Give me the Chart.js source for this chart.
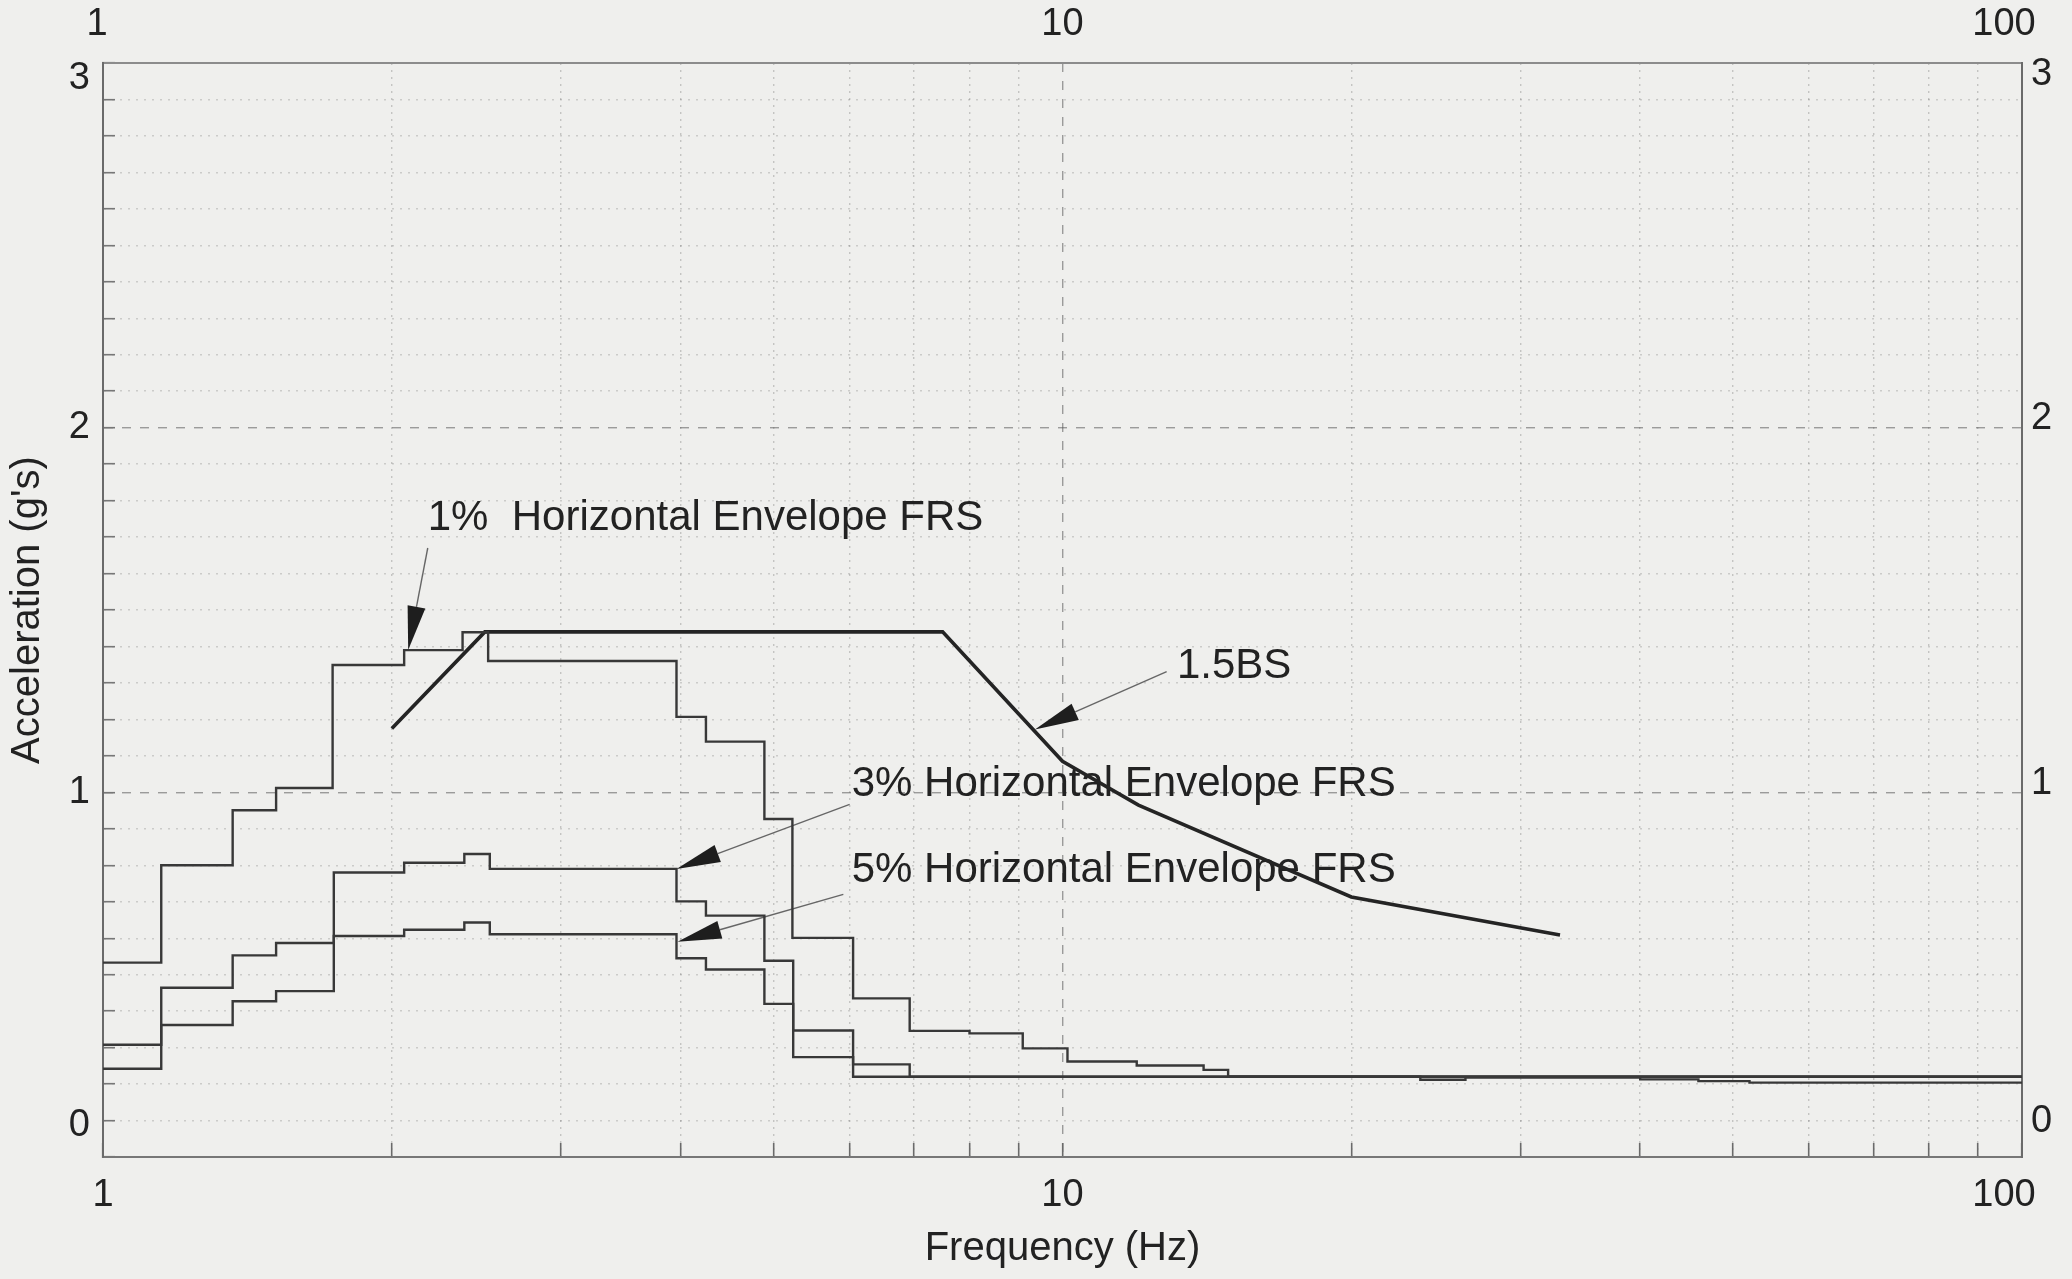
<!DOCTYPE html>
<html>
<head>
<meta charset="utf-8">
<title>Horizontal Envelope FRS vs 1.5BS</title>
<script src="https://cdn.jsdelivr.net/npm/chart.js@4.4.1/dist/chart.umd.min.js"></script>
<style>
  html, body { margin: 0; padding: 0; background: #efefed; }
  #wrap { position: relative; width: 2072px; height: 1279px; }
</style>
</head>
<body>
<div id="wrap"><canvas id="chart"></canvas></div>
<script>
// Step spectra: frequency (Hz) where each level starts, and that level (g)
const frs1Freq = [1, 1.15, 1.365, 1.515, 1.735, 2.06, 2.37, 2.52, 3.96, 4.25, 4.89, 5.23, 6.05, 6.93, 8.0, 9.09, 10.12, 11.95, 14.03, 14.88, 100];
const frs1Acc  = [0.533, 0.800, 0.951, 1.012, 1.349, 1.390, 1.439, 1.360, 1.207, 1.139, 0.927, 0.601, 0.435, 0.346, 0.339, 0.298, 0.262, 0.251, 0.239, 0.221, 0.221];

const frs3Freq = [1, 1.15, 1.365, 1.515, 1.74, 2.06, 2.38, 2.53, 3.96, 4.25, 4.89, 5.24, 6.05, 6.93, 100];
const frs3Acc  = [0.308, 0.464, 0.553, 0.587, 0.780, 0.807, 0.831, 0.790, 0.701, 0.662, 0.538, 0.347, 0.254, 0.220, 0.220];

const frs5Freq = [1, 1.15, 1.365, 1.515, 1.74, 2.06, 2.38, 2.53, 3.96, 4.25, 4.89, 5.24, 6.05, 23.6, 26.3, 40, 46, 52, 100];
const frs5Acc  = [0.242, 0.362, 0.427, 0.455, 0.606, 0.623, 0.643, 0.611, 0.545, 0.514, 0.420, 0.274, 0.220, 0.212, 0.218, 0.213, 0.208, 0.204, 0.204];

// 1.5 x broadened spectrum (straight segments)
const bsFreq = [2.0, 2.5, 7.5, 10.0, 12.0, 20.0, 33.0];
const bsAcc  = [1.175, 1.44, 1.44, 1.085, 0.965, 0.713, 0.609];

// Axis ticks
const freqTicks = [1, 2, 3, 4, 5, 6, 7, 8, 9, 10, 20, 30, 40, 50, 60, 70, 80, 90, 100];
const freqLabels = ['1', '10', '100'];
const accLabels = ['0', '1', '2', '3'];

// Callouts: text (left/baseline in data units), leader start, arrow tip
const callouts = [
  { text: '1%  Horizontal Envelope FRS', at: [2.18, 1.719], from: [2.18, 1.67], tip: [2.08, 1.39] },
  { text: '1.5BS', at: [13.16, 1.313], from: [12.84, 1.331], tip: [9.36, 1.172] },
  { text: '3% Horizontal Envelope FRS', at: [6.03, 0.990], from: [6.0, 0.967], tip: [3.96, 0.79] },
  { text: '5% Horizontal Envelope FRS', at: [6.03, 0.754], from: [5.91, 0.72], tip: [3.97, 0.59] }
];

// Small offsets for a few axis labels, [dx, dy] in pixels
const labelNudge = {
  y:  { '0': [0, -31], '3': [0, 16] },
  y2: { '0': [0, -35], '1': [0, -9], '2': [0, -9], '3': [0, 12] },
  x:  { '100': [-18, 0] },
  x2: { '1': [-6, 0], '100': [-18, 0] }
};

const FONT = "'Liberation Sans', Arial, Helvetica, sans-serif";
const INK = '#222222';
Chart.defaults.font.family = FONT;

const pts = (fs, as) => fs.map((f, i) => ({ x: f, y: as[i] }));
const isDecade = v => Math.abs(Math.log10(v) - Math.round(Math.log10(v))) < 1e-9;
const isWhole = v => Math.abs(v - Math.round(v)) < 1e-6;

const nudgePlugin = {
  id: 'nudgeLabels',
  beforeDraw(chart) {
    for (const [id, map] of Object.entries(labelNudge)) {
      const scale = chart.scales[id];
      if (!scale) continue;
      for (const item of scale.getLabelItems()) {
        const d = map[item.label];
        if (d && !item._nudged) {
          const t = item.options.translation;
          item.options.translation = [t[0] + d[0], t[1] + d[1]];
          item._nudged = true;
        }
      }
    }
  }
};

const calloutPlugin = {
  id: 'callouts',
  beforeDatasetsDraw(chart) {
    const { ctx, scales: { x, y } } = chart;
    ctx.save();
    ctx.font = '42px ' + FONT;
    ctx.textBaseline = 'alphabetic';
    ctx.textAlign = 'left';
    for (const c of callouts) {
      ctx.fillStyle = INK;
      const tx = x.getPixelForValue(c.at[0]), ty = y.getPixelForValue(c.at[1]);
      ctx.fillText(c.text, tx, ty);
      const fx = x.getPixelForValue(c.from[0]), fy = y.getPixelForValue(c.from[1]);
      const px = x.getPixelForValue(c.tip[0]), py = y.getPixelForValue(c.tip[1]);
      const dx = px - fx, dy = py - fy, len = Math.hypot(dx, dy);
      const ux = dx / len, uy = dy / len;
      const headLen = 44, half = 9;
      const bx = px - ux * headLen, by = py - uy * headLen;
      ctx.strokeStyle = '#666';
      ctx.lineWidth = 1.4;
      ctx.beginPath();
      ctx.moveTo(fx, fy);
      ctx.lineTo(bx, by);
      ctx.stroke();
      ctx.fillStyle = '#1e1e1e';
      ctx.beginPath();
      ctx.moveTo(px, py);
      ctx.lineTo(bx - uy * half, by + ux * half);
      ctx.lineTo(bx + uy * half, by - ux * half);
      ctx.closePath();
      ctx.fill();
    }
    ctx.restore();
  }
};

const stepStyle = { stepped: 'before', borderColor: '#383838', borderWidth: 2.4, pointRadius: 0, fill: false, borderJoinStyle: 'miter' };

const tickFont = { family: FONT, size: 38 };

// Fixed axis box sizes; edge-label padding is dropped so the plot spans the full frame
const fixHeight = h => s => { s.height = h; s.paddingLeft = 0; s.paddingRight = 0; };
const fixWidth = w => s => { s.width = w; s.paddingTop = 0; s.paddingBottom = 0; };

new Chart(document.getElementById('chart'), {
  type: 'line',
  data: {
    datasets: [
      Object.assign({ label: '1% Horizontal Envelope FRS', data: pts(frs1Freq, frs1Acc) }, stepStyle),
      Object.assign({ label: '3% Horizontal Envelope FRS', data: pts(frs3Freq, frs3Acc) }, stepStyle),
      Object.assign({ label: '5% Horizontal Envelope FRS', data: pts(frs5Freq, frs5Acc) }, stepStyle),
      { label: '1.5BS', data: pts(bsFreq, bsAcc), borderColor: '#242424', borderWidth: 3.6, pointRadius: 0, fill: false, tension: 0 }
    ]
  },
  options: {
    responsive: true,
    maintainAspectRatio: false,
    animation: false,
    layout: { padding: 0 },
    plugins: { legend: { display: false }, tooltip: { enabled: false } },
    scales: {
      x: {
        type: 'logarithmic', position: 'bottom', min: 1, max: 100,
        afterFit: fixHeight(122),
        afterBuildTicks: s => { s.ticks = freqTicks.map(v => ({ value: v })); },
        ticks: {
          autoSkip: false, maxRotation: 0, padding: 30, color: INK, font: tickFont,
          callback: v => (isDecade(v) && freqLabels.includes(String(v))) ? String(v) : ''
        },
        grid: {
          color: c => (c.tick && isDecade(c.tick.value)) ? 'rgba(85,85,85,0.55)' : 'rgba(120,120,120,0.36)',
          lineWidth: 1.4, tickLength: -14, tickColor: '#6a6a6a', tickWidth: 1.6
        },
        border: { color: '#777', width: 2, dash: c => (c.tick && isDecade(c.tick.value)) ? [9, 9] : [2, 5] },
        title: { display: true, text: 'Frequency (Hz)', color: INK, font: { family: FONT, size: 40 }, padding: { top: 0, bottom: 6 } }
      },
      x2: {
        type: 'logarithmic', position: 'top', min: 1, max: 100,
        afterFit: fixHeight(63),
        afterBuildTicks: s => { s.ticks = freqTicks.map(v => ({ value: v })); },
        ticks: {
          autoSkip: false, maxRotation: 0, padding: 16, color: INK, font: tickFont,
          callback: v => (isDecade(v) && freqLabels.includes(String(v))) ? String(v) : ''
        },
        grid: { drawOnChartArea: false, drawTicks: false },
        border: { color: '#8c8c8c', width: 2 }
      },
      y: {
        type: 'linear', position: 'left', min: 0, max: 3,
        afterFit: fixWidth(103),
        ticks: {
          stepSize: 0.1, autoSkip: false, padding: 25, color: INK, font: tickFont,
          callback: v => (isWhole(v) && accLabels.includes(String(Math.round(v)))) ? String(Math.round(v)) : ''
        },
        grid: {
          color: c => (c.tick && isWhole(c.tick.value)) ? 'rgba(85,85,85,0.55)' : 'rgba(120,120,120,0.3)',
          lineWidth: 1.4, tickLength: -12, tickColor: '#777', tickWidth: 1.6
        },
        border: { color: '#6a6a6a', width: 2, dash: c => (c.tick && isWhole(c.tick.value)) ? [9, 9] : [2, 6] },
        title: { display: true, text: "Acceleration (g's)", color: INK, font: { family: FONT, size: 40 }, padding: { top: 4, bottom: 0 } }
      },
      y2: {
        type: 'linear', position: 'right', min: 0, max: 3,
        afterFit: fixWidth(50),
        ticks: {
          stepSize: 1, padding: 9, color: INK, font: tickFont,
          callback: v => accLabels.includes(String(Math.round(v))) ? String(Math.round(v)) : ''
        },
        grid: { drawOnChartArea: false, drawTicks: false },
        border: { color: '#6a6a6a', width: 2 }
      }
    }
  },
  plugins: [nudgePlugin, calloutPlugin]
});
</script>
</body>
</html>
